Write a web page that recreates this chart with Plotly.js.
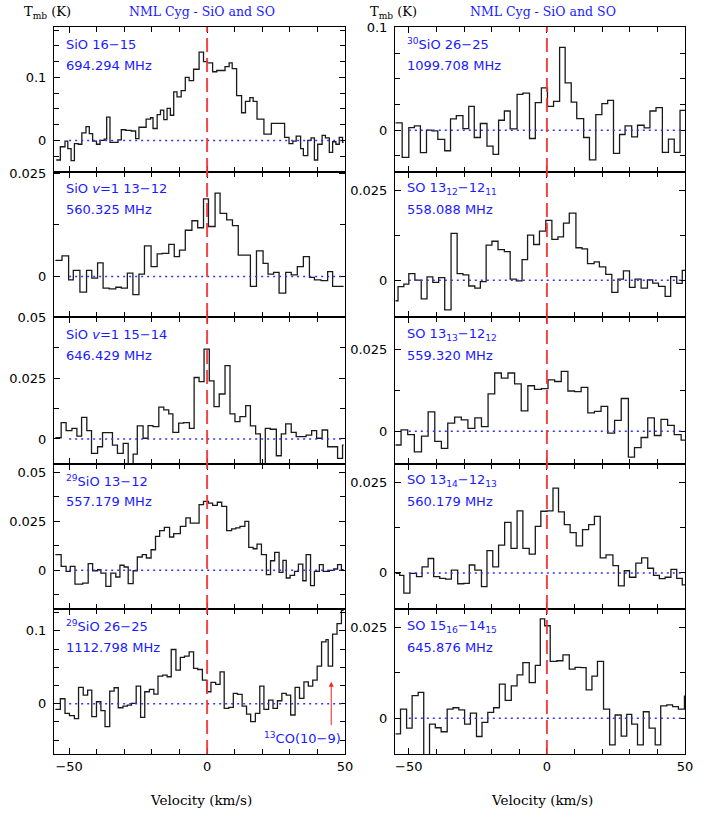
<!DOCTYPE html>
<html><head><meta charset="utf-8">
<script src="https://cdn.plot.ly/plotly-3.0.1.min.js"></script>
<style>html,body{margin:0;padding:0;background:#fff}#chart{width:717px;height:819px}</style>
</head><body><div id="chart"></div>
<script>
// ---------------- data (velocity km/s = channel left edge, Tmb in K) ----------------
const velL1 = [-54.7,-53.2,-51.5,-50.5,-49.3,-48.1,-46.7,-45.4,-43.9,-42.7,-41.5,-40.1,-38.8,-37.3,-36.4,-35.2,-33.7,-32.3,-31.1,-29.5,-27.5,-25.9,-24.7,-23.5,-22.1,-20.5,-19.6,-18.1,-16.9,-15.7,-14.5,-13.3,-12.1,-10.9,-9.4,-7.9,-6.5,-4.9,-2.9,-1.3,0.1,2.0,3.5,6.5,8.0,9.1,10.7,12.5,13.9,15.5,16.7,18.1,20.6,23.3,28.1,29.7,31.1,32.3,33.9,34.9,36.5,37.7,38.9,40.1,41.7,42.9,44.3,45.5,46.7,47.9,49.1,49.5];
const tmbL1 = [-0.031,-0.010,-0.001,-0.013,-0.032,-0.005,-0.006,0.012,0.022,0.011,-0.001,-0.006,0.000,0.002,0.037,-0.003,-0.003,0.001,0.017,0.016,0.015,0.003,0.021,0.021,0.034,0.036,0.019,0.041,0.048,0.033,0.051,0.040,0.077,0.069,0.079,0.100,0.095,0.113,0.140,0.125,0.123,0.109,0.111,0.117,0.123,0.114,0.071,0.044,0.062,0.068,0.062,0.034,0.010,0.027,0.005,-0.005,-0.001,0.007,-0.013,-0.024,0.000,0.004,-0.031,-0.006,0.008,0.004,-0.019,-0.002,-0.006,0.005,-0.003,-0.003];

const velL2 = [-55.0,-52.6,-50.2,-48.5,-46.1,-43.7,-41.8,-39.7,-37.7,-35.5,-33.1,-31.1,-28.9,-26.9,-24.7,-22.7,-20.3,-18.1,-16.3,-13.9,-11.9,-10.0,-7.9,-5.5,-3.4,-1.3,0.5,2.9,4.7,7.1,9.2,11.3,13.7,15.7,17.9,20.3,22.1,24.1,26.1,28.5,30.5,32.7,34.9,37.1,38.9,41.3,43.7,45.5,47.5,49.5];
const tmbL2 = [0.0039,0.0050,-0.0008,0.0015,-0.0038,0.0015,-0.0004,0.0033,-0.0028,-0.0030,-0.0026,-0.0028,0.0008,-0.0044,0.0006,0.0074,0.0024,0.0055,0.0056,0.0078,0.0048,0.0064,0.0112,0.0135,0.0118,0.0188,0.0121,0.0202,0.0153,0.0137,0.0123,0.0052,0.0052,-0.0024,0.0062,0.0032,0.0006,0.0010,-0.0040,0.0010,0.0004,0.0024,0.0048,-0.0002,-0.0008,-0.0010,0.0012,-0.0024,-0.0024,-0.0024];

const velL3 = [-55.0,-52.9,-51.1,-49.0,-47.2,-45.5,-43.6,-41.9,-39.7,-37.9,-36.1,-34.3,-32.5,-30.4,-28.6,-26.8,-25.3,-23.2,-21.4,-19.6,-17.5,-15.7,-13.9,-12.4,-10.3,-8.5,-6.4,-4.7,-2.9,-1.1,0.8,2.5,4.4,6.5,8.3,10.1,11.9,14.0,15.7,17.6,19.3,21.1,22.9,25.1,26.9,28.5,30.5,32.3,34.1,35.9,37.9,39.7,41.7,43.7,45.5,47.3,49.1,49.5];
const tmbL3 = [0.0005,0.0067,0.0034,0.0044,0.0012,0.0089,0.0034,-0.0059,-0.0032,0.0026,0.0026,-0.0025,-0.0059,-0.0018,-0.0120,-0.0062,0.0054,0.0003,0.0055,0.0051,0.0131,0.0120,0.0103,0.0027,0.0065,0.0067,0.0044,0.0253,0.0236,0.0370,0.0239,0.0133,0.0185,0.0302,0.0103,0.0071,0.0092,0.0137,0.0054,0.0021,-0.0120,0.0044,0.0040,-0.0069,0.0021,0.0062,0.0027,0.0010,0.0010,0.0016,0.0034,0.0003,0.0037,-0.0032,-0.0032,-0.0080,-0.0025,-0.0025];

const velL4 = [-55.0,-52.9,-51.1,-49.6,-47.9,-46.6,-45.1,-43.1,-41.5,-39.7,-38.5,-36.7,-34.9,-33.1,-31.6,-30.1,-28.6,-26.8,-25.3,-23.5,-22.0,-20.3,-18.7,-17.2,-15.5,-13.6,-12.1,-9.7,-7.7,-6.1,-4.6,-2.9,-1.3,0.5,2.0,3.7,5.3,7.1,8.9,10.4,11.9,13.7,15.1,16.7,18.1,19.7,21.5,23.0,24.5,26.1,27.5,28.7,30.1,31.7,33.1,34.7,35.9,37.5,38.9,40.7,42.1,44.3,45.9,47.3,48.7,49.5];
const tmbL4 = [0.0080,0.0020,-0.0005,0.0020,-0.0070,-0.0070,-0.0065,0.0034,-0.0002,0.0003,-0.0014,-0.0082,-0.0014,-0.0034,0.0026,0.0017,-0.0068,-0.0002,0.0068,0.0080,0.0063,0.0105,0.0173,0.0202,0.0219,0.0170,0.0187,0.0224,0.0267,0.0241,0.0241,0.0335,0.0352,0.0343,0.0331,0.0347,0.0326,0.0202,0.0211,0.0216,0.0224,0.0250,0.0117,0.0110,0.0134,0.0080,-0.0022,0.0049,0.0092,-0.0010,0.0051,-0.0039,-0.0026,-0.0005,0.0032,-0.0053,0.0080,-0.0078,-0.0005,0.0029,-0.0005,0.0000,0.0007,0.0029,0.0003,0.0003];

const velL5 = [-55.0,-53.2,-51.5,-49.9,-48.1,-46.6,-44.9,-43.3,-41.8,-40.1,-38.5,-37.0,-35.3,-33.7,-32.2,-30.5,-28.9,-27.4,-25.7,-24.1,-22.6,-20.9,-19.3,-17.8,-16.1,-14.5,-13.0,-11.3,-9.7,-8.2,-6.5,-4.9,-3.4,-1.7,-0.1,1.4,3.1,4.7,6.2,7.9,9.5,11.0,12.7,14.3,15.8,17.5,19.1,20.6,22.3,23.9,25.5,27.1,28.7,30.3,31.9,33.5,35.1,36.7,38.3,39.9,41.5,43.1,43.9,45.5,47.1,48.7,49.5];
const tmbL5 = [-0.0078,0.0068,-0.0132,-0.0164,-0.0205,0.0224,0.0119,0.0187,-0.0178,0.0027,-0.0096,-0.0315,0.0174,0.0219,-0.0055,-0.0032,-0.0018,0.0005,0.0242,-0.0187,0.0164,0.0196,0.0132,0.0379,0.0393,0.0370,0.0744,0.0461,0.0635,0.0653,0.0712,0.0484,0.0470,0.0324,0.0164,0.0292,0.0265,0.0438,-0.0064,-0.0050,0.0142,0.0128,-0.0032,-0.0142,-0.0247,-0.0132,0.0242,-0.0078,0.0050,-0.0064,0.0041,0.0142,0.0119,-0.0155,0.0224,0.0073,0.0301,0.0242,0.0324,0.0516,0.0849,0.0881,0.0516,0.0954,0.1100,0.1283,0.1283];

const velR1 = [-54.8,-52.4,-50.0,-48.0,-45.8,-43.6,-41.6,-39.5,-37.0,-34.9,-32.8,-30.4,-28.3,-26.3,-24.1,-21.7,-19.5,-17.5,-15.4,-13.3,-10.8,-8.7,-6.3,-4.2,-2.0,0.2,2.4,4.6,6.6,8.8,10.8,13.3,15.4,17.7,19.9,22.0,24.1,26.3,28.3,30.7,32.8,35.2,37.3,39.5,41.8,44.0,46.1,48.2,50.0];
const tmbR1 = [0.0071,-0.0265,0.0026,0.0042,-0.0219,0.0000,-0.0006,-0.0090,-0.0200,0.0110,0.0142,0.0016,0.0232,-0.0071,0.0065,-0.0155,-0.0235,0.0097,0.0187,0.0013,0.0348,0.0361,-0.0081,0.0268,0.0413,0.0232,0.0281,0.0806,0.0461,0.0274,0.0113,-0.0071,-0.0290,0.0152,0.0258,0.0290,-0.0226,-0.0042,0.0042,-0.0065,0.0048,0.0023,0.0187,0.0219,-0.0216,-0.0087,-0.0216,0.0194,0.0194];

const velR2 = [-54.8,-53.9,-51.8,-50.0,-47.8,-45.5,-43.4,-41.3,-39.2,-37.0,-34.7,-32.5,-30.4,-28.3,-26.1,-24.1,-22.0,-19.9,-17.7,-15.4,-13.3,-11.1,-9.0,-7.0,-4.8,-2.7,-0.4,1.8,4.0,6.0,8.1,10.5,12.7,14.7,17.1,19.0,21.3,23.5,25.7,27.7,29.9,31.9,34.1,36.4,38.3,40.4,42.8,44.8,47.0,49.0,50.0];
const tmbR2 = [-0.0057,-0.0018,-0.0011,0.0018,0.0000,-0.0052,0.0009,-0.0006,0.0007,-0.0082,0.0130,0.0018,0.0015,-0.0016,-0.0022,-0.0004,0.0097,0.0108,0.0085,0.0079,0.0003,-0.0002,0.0057,0.0125,0.0099,0.0136,0.0166,0.0113,0.0120,0.0158,0.0186,0.0090,0.0087,0.0046,0.0051,0.0037,0.0016,-0.0034,0.0003,0.0026,-0.0020,0.0003,-0.0022,0.0001,-0.0008,-0.0017,-0.0045,0.0010,-0.0009,0.0027,0.0027];

const velR3 = [-54.8,-52.8,-50.4,-48.0,-45.4,-43.0,-40.6,-38.2,-35.9,-33.4,-31.0,-28.6,-26.1,-23.7,-21.3,-18.9,-16.5,-14.1,-11.7,-9.3,-6.9,-4.5,-2.0,0.4,2.8,5.2,7.6,10.0,12.4,14.8,17.2,19.6,22.0,24.5,26.9,29.5,31.7,34.1,36.5,38.9,41.3,43.7,46.1,48.6,50.0];
const tmbR3 = [-0.0042,0.0004,-0.0010,-0.0063,-0.0015,0.0059,-0.0031,-0.0052,0.0025,0.0043,0.0035,0.0009,0.0041,0.0014,0.0114,0.0178,0.0162,0.0178,0.0145,0.0062,0.0139,0.0128,0.0130,0.0157,0.0152,0.0183,0.0123,0.0121,0.0134,0.0056,0.0061,0.0076,-0.0006,0.0033,0.0100,-0.0079,-0.0050,-0.0019,0.0041,-0.0013,0.0036,0.0018,-0.0010,-0.0027,-0.0027];

const velR4 = [-54.8,-53.3,-51.8,-49.6,-47.2,-45.2,-43.0,-41.0,-38.8,-36.7,-34.6,-32.3,-30.1,-28.1,-26.1,-23.7,-21.7,-19.6,-17.5,-15.3,-13.0,-10.8,-8.7,-6.4,-4.2,-2.2,0.0,2.2,4.2,6.3,8.4,10.6,12.9,15.1,17.2,19.3,21.4,23.9,25.9,28.0,29.9,32.2,34.3,36.5,38.6,40.7,42.8,44.9,47.0,49.0,50.0];
const tmbR4 = [-0.0001,-0.0007,-0.0056,-0.0001,-0.0010,0.0017,0.0040,-0.0010,-0.0015,-0.0017,0.0008,-0.0030,-0.0029,0.0022,0.0008,-0.0038,0.0062,0.0017,0.0077,0.0140,0.0068,0.0172,0.0068,0.0052,0.0129,0.0171,0.0172,0.0235,0.0169,0.0134,0.0112,0.0075,0.0120,0.0134,0.0157,0.0042,0.0050,0.0020,-0.0036,0.0006,-0.0012,0.0027,0.0042,0.0013,-0.0007,-0.0016,-0.0012,0.0010,-0.0015,-0.0033,-0.0033];

const velR5 = [-54.8,-53.0,-50.8,-48.8,-46.6,-44.6,-42.5,-40.4,-38.3,-36.1,-34.0,-31.9,-29.8,-27.7,-25.5,-23.5,-21.4,-19.3,-17.2,-15.1,-12.9,-10.8,-8.7,-6.4,-4.2,-2.4,-0.8,1.2,3.6,5.8,8.1,10.2,12.3,14.2,16.3,18.3,20.5,22.7,24.7,26.9,28.9,30.7,32.8,34.9,37.0,39.2,41.2,43.4,45.5,47.6,49.8,50.0];
const tmbR5 = [-0.0043,0.0025,-0.0027,0.0062,0.0071,-0.0115,-0.0016,-0.0026,-0.0037,0.0025,0.0029,0.0023,-0.0016,0.0014,-0.0050,-0.0011,0.0016,0.0029,0.0094,0.0049,0.0089,0.0119,0.0153,0.0098,0.0145,0.0273,0.0254,0.0156,0.0158,0.0174,0.0135,0.0140,0.0139,0.0078,0.0116,0.0156,0.0025,-0.0073,0.0009,-0.0049,0.0011,-0.0016,-0.0073,0.0018,-0.0027,-0.0073,0.0034,0.0037,0.0032,0.0025,0.0061,0.0061];

// ---------------- labels / ticks ----------------
const lineNames = ["SiO 16\u221215","SiO <i>v</i>=1 13\u221212","SiO <i>v</i>=1 15\u221214","<sup>29</sup>SiO 13\u221212","<sup>29</sup>SiO 26\u221225",
                   "<sup>30</sup>SiO 26\u221225","SO 13<sub>12</sub>\u221212<sub>11</sub>","SO 13<sub>13</sub>\u221212<sub>12</sub>","SO 13<sub>14</sub>\u221212<sub>13</sub>","SO 15<sub>16</sub>\u221214<sub>15</sub>"];
const lineFreqs = ["694.294 MHz","560.325 MHz","646.429 MHz","557.179 MHz","1112.798 MHz","1099.708 MHz","558.088 MHz","559.320 MHz","560.179 MHz","645.876 MHz"];
const yTicksL1 = [0, 0.1], yTicksL2 = [0, 0.025], yTicksL3 = [0, 0.025, 0.05], yTicksL4 = [0, 0.025, 0.05], yTicksL5 = [0, 0.1];
const yTicksR1 = [0, 0.1], yTicksR2 = [0, 0.025], yTicksR3 = [0, 0.025], yTicksR4 = [0, 0.025], yTicksR5 = [0, 0.025];
const xTickVals = [-50, 0, 50];
const xTickText = ["\u221250", "0", "50"];
const titleText = "NML Cyg - SiO and SO";
const yTitleText = "T<sub>mb</sub> (K)";
const xTitleText = "Velocity (km/s)";
const arrowLabel = "<sup>13</sup>CO(10\u22129)";

// ---------------- layout ----------------
const colDom = [[0.0753, 0.4812], [0.5509, 0.9554]];
const rowDom = [[0.79, 0.96703], [0.61294, 0.79], [0.43346, 0.61294], [0.25641, 0.43346], [0.07937, 0.25641]];
const panels = [
  {vel: velL1, tmb: tmbL1, col: 0, row: 0, yr: [-0.05, 0.18],      yt: yTicksL1, ydt: 0.025},
  {vel: velL2, tmb: tmbL2, col: 0, row: 1, yr: [-0.0098, 0.0253],  yt: yTicksL2, ydt: 0.0125},
  {vel: velL3, tmb: tmbL3, col: 0, row: 2, yr: [-0.0103, 0.0502],  yt: yTicksL3, ydt: 0.0125},
  {vel: velL4, tmb: tmbL4, col: 0, row: 3, yr: [-0.0197, 0.0542],  yt: yTicksL4, ydt: 0.0125},
  {vel: velL5, tmb: tmbL5, col: 0, row: 4, yr: [-0.069, 0.13],     yt: yTicksL5, ydt: 0.025},
  {vel: velR1, tmb: tmbR1, col: 1, row: 0, yr: [-0.0407, 0.1005],  yt: yTicksR1, ydt: 0.025},
  {vel: velR2, tmb: tmbR2, col: 1, row: 1, yr: [-0.0102, 0.0300],  yt: yTicksR2, ydt: 0.0125},
  {vel: velR3, tmb: tmbR3, col: 1, row: 2, yr: [-0.0100, 0.0349],  yt: yTicksR3, ydt: 0.0125},
  {vel: velR4, tmb: tmbR4, col: 1, row: 3, yr: [-0.0100, 0.0302],  yt: yTicksR4, ydt: 0.0125},
  {vel: velR5, tmb: tmbR5, col: 1, row: 4, yr: [-0.0098, 0.0300],  yt: yTicksR5, ydt: 0.0125}
];

const BLUE = '#1a1aff';
const tickFont = {family: 'DejaVu Sans', size: 13, color: '#000'};
const labelFont = {family: 'DejaVu Sans', size: 13, color: BLUE};
const serifFont = {family: 'DejaVu Serif', size: 13, color: '#000'};

const layout = {
  width: 717, height: 819,
  margin: {l: 0, r: 0, t: 0, b: 0},
  paper_bgcolor: '#fff', plot_bgcolor: '#fff',
  showlegend: false,
  font: tickFont,
  shapes: [], annotations: []
};
const data = [];

panels.forEach((p, i) => {
  const n = i === 0 ? '' : String(i + 1);
  const xr = 'x' + n, yr = 'y' + n;
  data.push({
    type: 'scatter', mode: 'lines', x: p.vel, y: p.tmb, xaxis: xr, yaxis: yr,
    line: {shape: 'hv', color: '#1a1a1a', width: 1.3}, hoverinfo: 'skip'
  });
  layout['xaxis' + n] = {
    domain: colDom[p.col], anchor: yr, range: p.col === 0 ? [-55.5, 50] : [-55, 50],
    tickmode: 'array', tickvals: xTickVals, ticktext: xTickText,
    showticklabels: p.row === 4, tickfont: tickFont,
    ticks: 'inside', ticklen: 6, tickwidth: 1, tickcolor: '#000',
    mirror: 'ticks', showline: true, linecolor: '#000', linewidth: 1,
    showgrid: false, zeroline: false, fixedrange: true,
    minor: {tickmode: 'linear', tick0: 0, dtick: 10, ticks: 'inside', ticklen: 5, tickcolor: '#000', tickwidth: 1, showgrid: false}
  };
  layout['yaxis' + n] = {
    domain: rowDom[p.row], anchor: xr, range: p.yr,
    tickmode: 'array', tickvals: p.yt, ticktext: p.yt.map(v => v === 0 ? '0' : String(v)),
    tickfont: tickFont, ticklabelstandoff: 4,
    ticks: 'inside', ticklen: 6, tickwidth: 1, tickcolor: '#000',
    mirror: 'ticks', showline: true, linecolor: '#000', linewidth: 1,
    showgrid: false, zeroline: false, fixedrange: true,
    minor: {tickmode: 'linear', tick0: 0, dtick: p.ydt, ticks: 'inside', ticklen: 5, tickcolor: '#000', tickwidth: 1, showgrid: false}
  };
  layout.shapes.push({type: 'line', xref: xr, yref: yr, x0: -50, x1: 50, y0: 0, y1: 0,
    line: {color: '#3030ff', width: 1.5, dash: '2px,4px'}});
  layout.shapes.push({type: 'line', xref: xr, yref: yr + ' domain', x0: 0, x1: 0, y0: 0, y1: 1,
    line: {color: 'rgba(240,50,50,0.9)', width: 2, dash: '14px,6px'}});
  layout.annotations.push({xref: xr + ' domain', yref: yr + ' domain', x: 0.034, y: 1, yshift: -17,
    xanchor: 'left', yanchor: 'middle', showarrow: false, text: lineNames[i], font: labelFont});
  layout.annotations.push({xref: xr + ' domain', yref: yr + ' domain', x: 0.034, y: 1, yshift: -38,
    xanchor: 'left', yanchor: 'middle', showarrow: false, text: lineFreqs[i], font: labelFont});
});

// column titles and axis titles
[[0.2817, 0.0307], [0.757, 0.513]].forEach(([tx, yx]) => {
  layout.annotations.push({xref: 'paper', yref: 'paper', x: tx, y: 1 - 12/819, xanchor: 'center', yanchor: 'middle',
    showarrow: false, text: titleText, font: {family: 'DejaVu Serif', size: 12.5, color: BLUE}});
  layout.annotations.push({xref: 'paper', yref: 'paper', x: yx, y: 1 - 13/819, xanchor: 'left', yanchor: 'middle',
    showarrow: false, text: yTitleText, font: serifFont});
});
[0.2803, 0.756].forEach(cx => {
  layout.annotations.push({xref: 'paper', yref: 'paper', x: cx, y: 1 - 800/819, xanchor: 'center', yanchor: 'middle',
    showarrow: false, text: xTitleText, font: {family: 'DejaVu Serif', size: 13.5, color: '#000'}});
});
// 13CO arrow in 29SiO 26-25 panel
layout.annotations.push({xref: 'x5', yref: 'y5', axref: 'x5', ayref: 'y5', x: 45, y: 0.030, ax: 45, ay: -0.0315,
  showarrow: true, arrowhead: 2, arrowsize: 1, arrowwidth: 1, arrowcolor: '#ff2020', text: ''});
layout.annotations.push({xref: 'x5', yref: 'y5', x: 49.3, y: -0.047, xanchor: 'right', yanchor: 'middle',
  showarrow: false, text: arrowLabel, font: labelFont});

Plotly.newPlot('chart', data, layout, {staticPlot: true, displayModeBar: false});
</script>
</body></html>
